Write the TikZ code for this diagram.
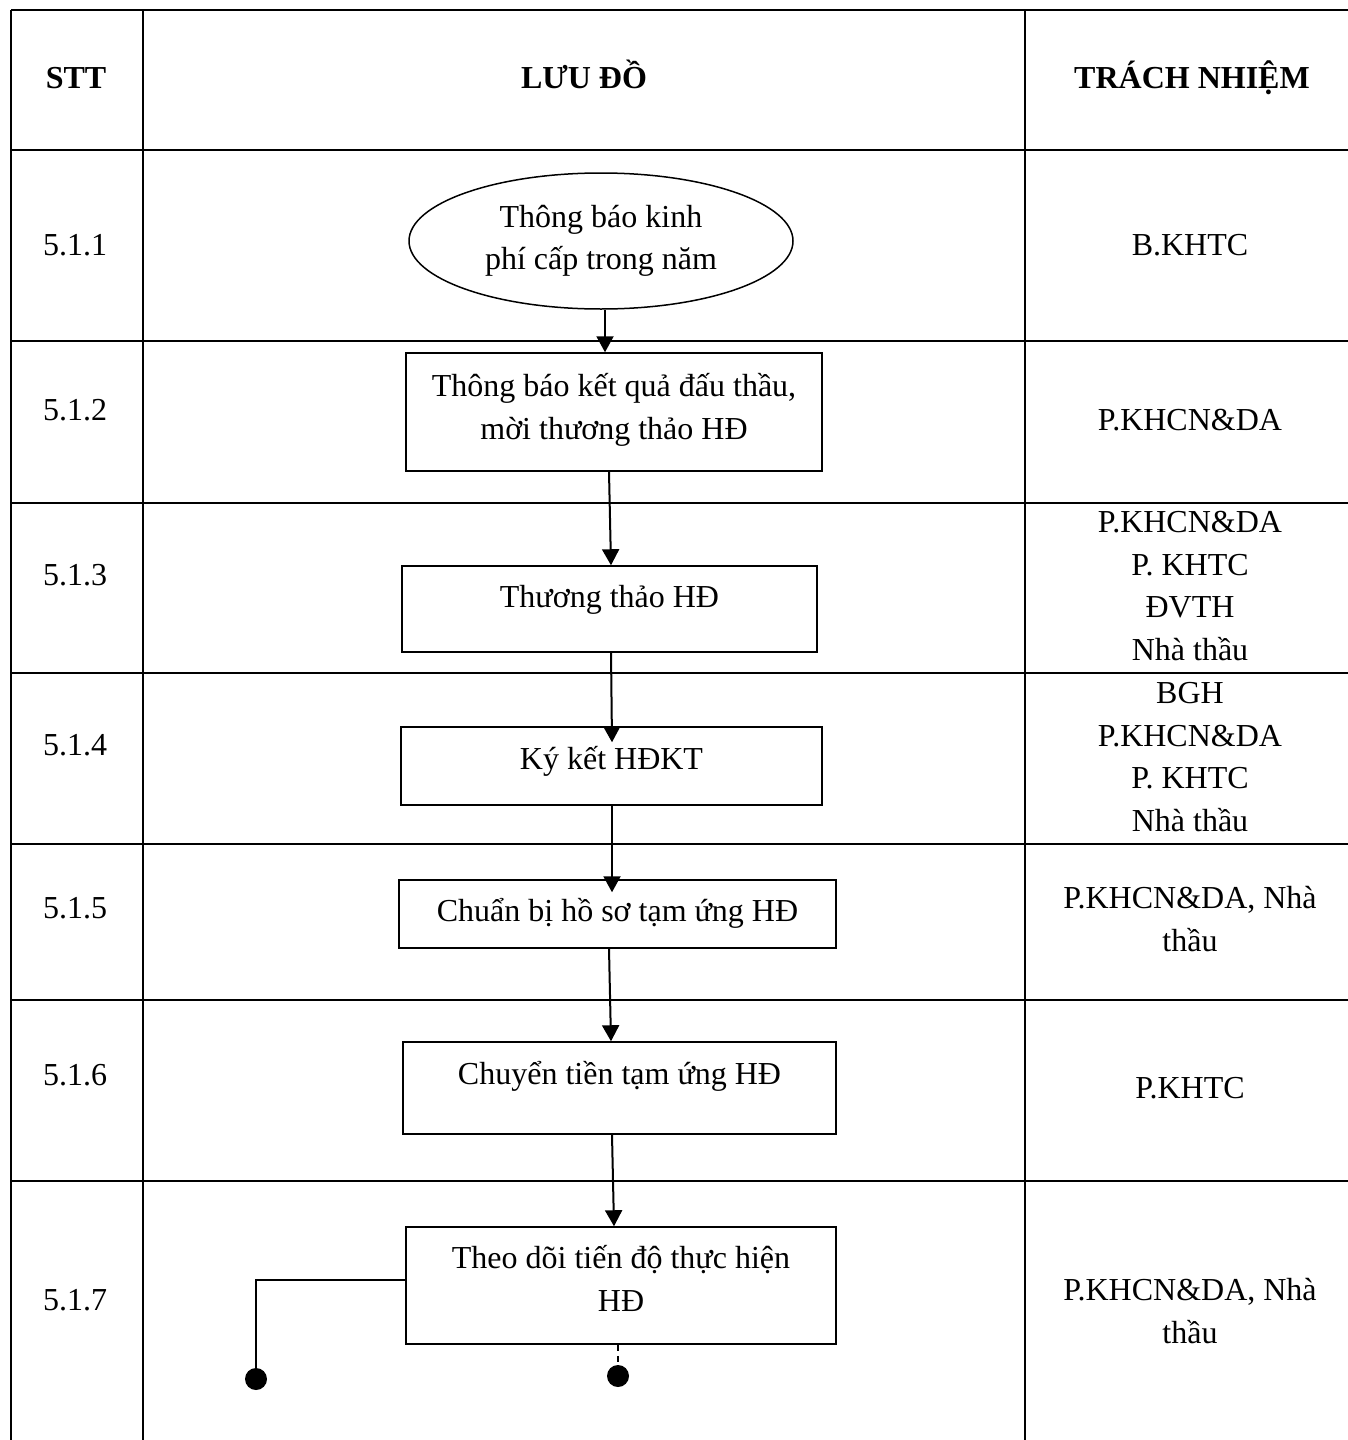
\documentclass[tikz,border=0pt]{standalone}
\usepackage{fontspec}
\setmainfont{Liberation Serif}
\usetikzlibrary{shapes.geometric,arrows.meta,calc}
\newcommand\myraise[2]{\raisebox{#1}[0pt][0pt]{\begin{tabular}{@{}c@{}}#2\end{tabular}}}
\begin{document}
\begin{tikzpicture}[x=0.5pt,y=-0.5pt,
  gridline/.style={line width=1.1pt},
  box/.style={draw,line width=0.75pt,inner sep=0pt,font=\fontsize{16}{21.3}\selectfont},
  txt/.style={inner sep=0pt,font=\fontsize{16}{21.3}\selectfont},
  hdr/.style={inner sep=0pt,font=\fontsize{16}{21.3}\selectfont\bfseries,anchor=base},
  arr/.style={line width=1pt,-{Triangle[length=8pt,width=8.5pt]}},
  conn/.style={line width=1pt},
  dotnode/.style={circle,fill=black,inner sep=0pt,minimum size=11pt}
]
\useasboundingbox (0,0) rectangle (1348,1440);
% table grid
\foreach \yy in {10,150,341,503,673,844,1000,1181}
  \draw[gridline] (11,\yy) -- (1348,\yy);
\foreach \xx in {11,143,1025}
  \draw[gridline] (\xx,10) -- (\xx,1440);
% headers
\node[hdr] (h1) at (76,88) {STT};
\node[hdr] (h2) at (584,88) {LƯU ĐỒ};
\node[hdr] (h3) at (1192,88) {TRÁCH NHIỆM};
% step numbers
\node[txt] (s1) at (75,245) {5.1.1};
\node[txt] (s2) at (75,410) {5.1.2};
\node[txt] (s3) at (75,575) {5.1.3};
\node[txt] (s4) at (75,745) {5.1.4};
\node[txt] (s5) at (75,908) {5.1.5};
\node[txt] (s6) at (75,1075) {5.1.6};
\node[txt] (s7) at (75,1300) {5.1.7};
% responsibilities
\node[txt,align=center] (r1) at (1190,245) {B.KHTC};
\node[txt,align=center] (r2) at (1190,420) {P.KHCN\&DA};
\node[txt,align=center] (r3) at (1190,586) {P.KHCN\&DA\\P. KHTC\\ĐVTH\\Nhà thầu};
\node[txt,align=center] (r4) at (1190,757) {BGH\\P.KHCN\&DA\\P. KHTC\\Nhà thầu};
\node[txt,align=center] (r5) at (1190,919) {P.KHCN\&DA, Nhà\\thầu};
\node[txt,align=center] (r6) at (1190,1088) {P.KHTC};
\node[txt,align=center] (r7) at (1190,1311) {P.KHCN\&DA, Nhà\\thầu};
% flowchart
\node[box,ellipse,minimum width=192pt,minimum height=68pt,align=center] (e1) at (601,241) {Thông báo kinh\\phí cấp trong năm};
\node[box,minimum width=208pt,minimum height=59pt] (b2) at (614,412) {\myraise{-3pt}{Thông báo kết quả đấu thầu,\\mời thương thảo HĐ}};
\node[box,minimum width=207.5pt,minimum height=43pt] (b3) at (609.5,609) {\myraise{0.5pt}{Thương thảo HĐ}};
\node[box,minimum width=210.5pt,minimum height=39pt] (b4) at (611.5,766) {\myraise{-2pt}{Ký kết HĐKT}};
\node[box,minimum width=218.5pt,minimum height=34pt] (b5) at (617.5,914) {\myraise{-4pt}{Chuẩn bị hồ sơ tạm ứng HĐ}};
\node[box,minimum width=216.5pt,minimum height=46pt] (b6) at (619.5,1088) {\myraise{1.6pt}{Chuyển tiền tạm ứng HĐ}};
\node[box,minimum width=215pt,minimum height=58.5pt] (b7) at (621,1285.5) {\myraise{-2.3pt}{Theo dõi tiến độ thực hiện\\HĐ}};
\node[dotnode] (d1) at (256,1379) {};
\node[dotnode] (d2) at (618,1376) {};
% connectors
\draw[arr] ($(e1.south)+(4,0)$) -- ($(e1.south |- b2.north)+(4,0)$);
\draw[arr] ($(b2.south)+(-5,0)$) -- ($(b3.north)+(1.5,0)$);
\draw[arr] ($(b3.south)+(1.5,0)$) -- ($(b4.north)+(0.5,16)$);
\draw[arr] ($(b4.south)+(0.5,0)$) -- ($(b5.north)+(-5.5,13)$);
\draw[arr] ($(b5.south)+(-8.5,0)$) -- ($(b6.north)+(-8.5,0)$);
\draw[arr] ($(b6.south)+(-7.5,0)$) -- ($(b7.north)+(-7,0)$);
\draw[conn] ($(b7.west)+(0,-5.5)$) -| (d1);
\draw[conn,dash pattern=on 3pt off 2.5pt] (d2 |- b7.south) -- (d2);
\end{tikzpicture}
\end{document}
